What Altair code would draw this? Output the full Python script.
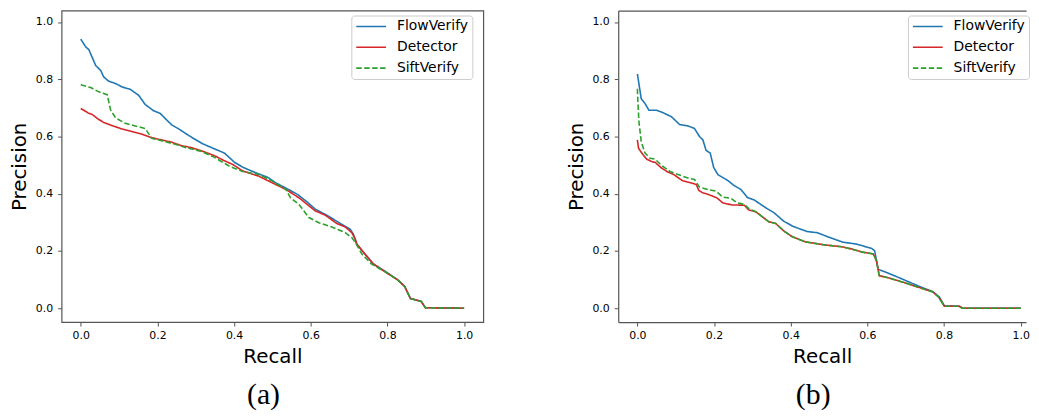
import altair as alt
import pandas as pd

METHODS = ["FlowVerify", "Detector", "SiftVerify"]
COLORS = ["#1f77b4", "#d62728", "#2ca02c"]
TICKS = [0.0, 0.2, 0.4, 0.6, 0.8, 1.0]
SPINE = "#555555"

# ---------------- panel (a) ----------------
A_FLOW_R = [0.000, 0.013, 0.021, 0.039, 0.052, 0.060, 0.073, 0.091, 0.108, 0.129, 0.151, 0.168,
            0.190, 0.207, 0.224, 0.237, 0.255, 0.272, 0.293, 0.319, 0.345, 0.375, 0.401, 0.422,
            0.457, 0.487, 0.509, 0.535, 0.565, 0.590, 0.612, 0.646, 0.677, 0.703, 0.711, 0.720,
            0.741, 0.763, 0.793, 0.827, 0.845, 0.860, 0.888, 0.899, 1.000]
A_FLOW_P = [0.940, 0.913, 0.904, 0.848, 0.831, 0.808, 0.793, 0.785, 0.773, 0.765, 0.744, 0.712,
            0.690, 0.681, 0.658, 0.641, 0.627, 0.612, 0.594, 0.574, 0.559, 0.542, 0.510, 0.493,
            0.473, 0.458, 0.438, 0.420, 0.398, 0.372, 0.346, 0.322, 0.296, 0.276, 0.259, 0.224,
            0.190, 0.155, 0.130, 0.099, 0.076, 0.034, 0.024, 0.002, 0.000]

A_DET_R = [0.000, 0.021, 0.030, 0.043, 0.060, 0.082, 0.108, 0.134, 0.160, 0.185, 0.211, 0.237,
           0.263, 0.289, 0.315, 0.349, 0.375, 0.397, 0.422, 0.465, 0.500, 0.535, 0.569, 0.612,
           0.638, 0.668, 0.690, 0.707, 0.716, 0.720, 0.741, 0.763, 0.793, 0.827, 0.845, 0.860,
           0.888, 0.899, 1.000]
A_DET_P = [0.698, 0.681, 0.677, 0.663, 0.649, 0.638, 0.626, 0.617, 0.608, 0.596, 0.588, 0.580,
           0.568, 0.561, 0.550, 0.533, 0.515, 0.502, 0.480, 0.461, 0.438, 0.415, 0.386, 0.340,
           0.325, 0.296, 0.284, 0.264, 0.242, 0.224, 0.190, 0.155, 0.128, 0.099, 0.076, 0.034,
           0.024, 0.002, 0.000]

A_SIFT_R = [0.000, 0.026, 0.047, 0.069, 0.078, 0.091, 0.116, 0.142, 0.168, 0.185, 0.211, 0.246,
            0.280, 0.315, 0.349, 0.388, 0.422, 0.465, 0.500, 0.535, 0.547, 0.569, 0.595, 0.621,
            0.655, 0.690, 0.707, 0.716, 0.733, 0.758, 0.793, 0.827, 0.845, 0.860, 0.888, 0.899,
            1.000]
A_SIFT_P = [0.781, 0.771, 0.756, 0.746, 0.692, 0.665, 0.646, 0.637, 0.628, 0.594, 0.585, 0.573,
            0.559, 0.548, 0.527, 0.496, 0.478, 0.467, 0.444, 0.415, 0.386, 0.363, 0.317, 0.299,
            0.284, 0.264, 0.247, 0.230, 0.190, 0.155, 0.128, 0.099, 0.076, 0.034, 0.024, 0.002,
            0.000]

# ---------------- panel (b) ----------------
B_FLOW_R = [0.000, 0.010, 0.020, 0.030, 0.050, 0.067, 0.089, 0.110, 0.132, 0.149, 0.162, 0.171,
            0.179, 0.190, 0.199, 0.210, 0.236, 0.253, 0.270, 0.287, 0.305, 0.335, 0.356, 0.382,
            0.406, 0.443, 0.469, 0.494, 0.536, 0.572, 0.611, 0.619, 0.628, 0.652, 0.684, 0.710,
            0.736, 0.771, 0.788, 0.801, 0.840, 0.848, 1.000]
B_FLOW_P = [0.819, 0.732, 0.715, 0.692, 0.692, 0.683, 0.669, 0.642, 0.637, 0.628, 0.600, 0.588,
            0.552, 0.542, 0.492, 0.467, 0.446, 0.428, 0.415, 0.387, 0.378, 0.351, 0.334, 0.304,
            0.286, 0.268, 0.264, 0.251, 0.231, 0.224, 0.209, 0.201, 0.136, 0.124, 0.106, 0.091,
            0.076, 0.058, 0.039, 0.008, 0.007, 0.000, 0.000]

B_DET_R = [0.000, 0.003, 0.011, 0.024, 0.040, 0.046, 0.063, 0.078, 0.095, 0.117, 0.145, 0.154,
           0.160, 0.171, 0.184, 0.207, 0.223, 0.246, 0.279, 0.290, 0.309, 0.343, 0.361, 0.382,
           0.404, 0.438, 0.490, 0.533, 0.559, 0.587, 0.615, 0.619, 0.624, 0.631, 0.658, 0.693,
           0.727, 0.771, 0.786, 0.801, 0.840, 0.848, 1.000]
B_DET_P = [0.588, 0.559, 0.543, 0.521, 0.511, 0.510, 0.490, 0.477, 0.467, 0.446, 0.436, 0.432,
           0.412, 0.403, 0.398, 0.386, 0.368, 0.361, 0.360, 0.344, 0.337, 0.302, 0.296, 0.270,
           0.250, 0.232, 0.221, 0.215, 0.207, 0.196, 0.190, 0.180, 0.165, 0.114, 0.105, 0.091,
           0.076, 0.057, 0.039, 0.007, 0.007, 0.000, 0.000]

B_SIFT_R = [0.000, 0.001, 0.004, 0.010, 0.020, 0.033, 0.046, 0.063, 0.085, 0.106, 0.132, 0.149,
            0.162, 0.184, 0.205, 0.223, 0.244, 0.261, 0.279, 0.292, 0.309, 0.343, 0.361, 0.382,
            0.404, 0.438, 0.490, 0.533, 0.559, 0.587, 0.615, 0.619, 0.624, 0.631, 0.658, 0.693,
            0.727, 0.771, 0.786, 0.801, 0.840, 0.848, 1.000]
B_SIFT_P = [0.767, 0.732, 0.652, 0.582, 0.542, 0.524, 0.521, 0.499, 0.478, 0.467, 0.455, 0.450,
            0.423, 0.415, 0.409, 0.388, 0.384, 0.368, 0.363, 0.346, 0.337, 0.302, 0.296, 0.270,
            0.250, 0.232, 0.221, 0.215, 0.207, 0.196, 0.190, 0.180, 0.165, 0.114, 0.105, 0.091,
            0.076, 0.057, 0.039, 0.007, 0.007, 0.000, 0.000]

B_XMAX = 1.014  # panel (b) is cut off by the right edge of the page


def frame(curves):
    rows = []
    for method, (rs, ps) in zip(METHODS, curves):
        for i, (r, p) in enumerate(zip(rs, ps)):
            rows.append({"method": method, "recall": r, "precision": p, "idx": i})
    return pd.DataFrame(rows)


def caption_title(text):
    return alt.TitleParams(text=text, orient="bottom", anchor="middle", frame="group",
                           font="Liberation Serif", fontSize=30, fontWeight="normal",
                           color="black", dx=-9, offset=14)


def lines(df, xmax, spines):
    legend = alt.Legend(orient="none", legendX=292, legendY=5, title=None)
    xscale = alt.Scale(domain=[-0.05, xmax], nice=False, zero=False)
    return alt.Chart(df).mark_line(strokeWidth=1.6, clip=True).encode(
        x=alt.X("recall:Q", scale=xscale,
                axis=alt.Axis(values=TICKS, format=".1f", title="Recall", domain=spines)),
        y=alt.Y("precision:Q",
                scale=alt.Scale(domain=[-0.0485, 1.04], nice=False, zero=False),
                axis=alt.Axis(values=TICKS, format=".1f", title="Precision", domain=spines)),
        color=alt.Color("method:N", sort=METHODS,
                        scale=alt.Scale(domain=METHODS, range=COLORS), legend=legend),
        strokeDash=alt.StrokeDash("method:N", sort=METHODS,
                                  scale=alt.Scale(domain=METHODS, range=[[1, 0], [1, 0], [5.5, 2.5]]),
                                  legend=legend),
        order=alt.Order("idx:Q"),
    )


dfa = frame([(A_FLOW_R, A_FLOW_P), (A_DET_R, A_DET_P), (A_SIFT_R, A_SIFT_P)])
dfb = frame([(B_FLOW_R, B_FLOW_P), (B_DET_R, B_DET_P), (B_SIFT_R, B_SIFT_P)])

left = lines(dfa, 1.05, False).properties(width=425, height=314, title=caption_title("(a)"))

b_lines = lines(dfb, B_XMAX, True)
b_top = alt.Chart(dfb).mark_line(opacity=0).encode(
    x=alt.X("recall:Q", scale=alt.Scale(domain=[-0.05, B_XMAX], nice=False, zero=False),
            axis=alt.Axis(orient="top", labels=False, ticks=False, title=None, domain=True)),
    y=alt.Y("precision:Q", scale=alt.Scale(domain=[-0.0485, 1.04], nice=False, zero=False)),
)
right = alt.layer(b_lines, b_top).resolve_axis(x="independent").properties(
    width=411, height=314, title=caption_title("(b)"),
    view=alt.ViewBackground(stroke="transparent"),
)

chart = alt.hconcat(left, right, spacing=81).resolve_scale(
    color="independent", strokeDash="independent"
).resolve_legend(
    color="independent", strokeDash="independent"
).properties(
    padding={"left": 0, "top": 0, "right": 0, "bottom": 0}
).configure_view(
    stroke=SPINE, strokeWidth=1.2
).configure_axis(
    grid=False, domainColor=SPINE, domainWidth=1.2,
    labelFont="DejaVu Sans", labelFontSize=11, labelColor="#000000", labelPadding=4,
    titleFont="DejaVu Sans", titleFontSize=20, titleFontWeight="normal", titleColor="#000000",
    tickColor=SPINE, tickSize=4, tickWidth=1,
).configure_axisX(titlePadding=6).configure_axisY(titlePadding=6, labelPadding=5).configure_legend(
    labelFont="DejaVu Sans", labelFontSize=14, labelColor="#000000",
    symbolType="stroke", symbolSize=900, symbolStrokeWidth=1.6, labelOffset=10,
    clipHeight=14, rowPadding=7, padding=4, strokeColor="#cccccc",
    fillColor="rgba(255,255,255,0.85)", cornerRadius=3,
)

chart.save("out.html", embed_options={"renderer": "svg", "actions": False})
